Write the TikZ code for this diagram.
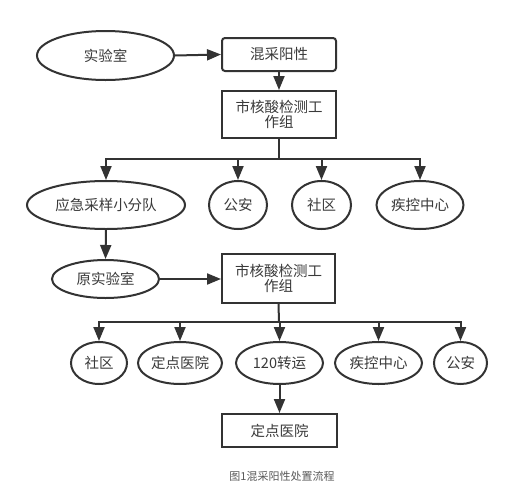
\documentclass[tikz,border=0pt]{standalone}
\usepackage{fontspec}
\setmainfont{Noto Sans CJK SC}
\newfontfamily\capfont{Noto Sans CJK SC}
\usetikzlibrary{shapes.geometric,arrows.meta}
\definecolor{ln}{HTML}{333333}
\definecolor{tx}{HTML}{3A3A3A}
\tikzset{
  ov/.style={ellipse,draw=ln,line width=2pt,inner sep=0pt,text=tx,font=\fontsize{14.5}{17}\selectfont},
  bx/.style={rectangle,draw=ln,line width=2pt,inner sep=0pt,text=tx,align=center,font=\fontsize{14.5}{17}\selectfont},
  ar/.style={draw=ln,line width=2pt,-{Triangle[length=14pt,width=11pt]}},
  ln/.style={draw=ln,line width=2pt}
}
\begin{document}
\begin{tikzpicture}[x=1pt,y=-1pt]
\useasboundingbox (0,0) rectangle (525,493);
\fill[white] (0,0) rectangle (525,493);
% top row
\node[ov,minimum width=137pt,minimum height=49pt] (lab) at (105.5,55.5) {实验室};
\node[bx,rounded corners=3pt,minimum width=114pt,minimum height=33pt] (pos) at (279,54.5) {混采阳性};
\node[bx,minimum width=114pt,minimum height=47pt] (wg1) at (279,114.5) {市核酸检测工\\[-2pt]作组};
\coordinate (bar1) at (279,159);
% second row
\node[ov,minimum width=158pt,minimum height=48pt] (team) at (106,205) {应急采样小分队};
\node[ov,minimum width=58pt,minimum height=48pt] (police1) at (238,205) {公安};
\node[ov,minimum width=59pt,minimum height=48pt] (comm1) at (321.5,205) {社区};
\node[ov,minimum width=87pt,minimum height=48pt] (cdc1) at (420,205) {疾控中心};
% third row
\node[ov,minimum width=107pt,minimum height=38pt] (olab) at (105.5,279) {原实验室};
\node[bx,minimum width=113pt,minimum height=49pt] (wg2) at (278.5,278.5) {市核酸检测工\\[-2pt]作组};
\coordinate (bar2) at (279,322);
% fourth row
\node[ov,minimum width=56pt,minimum height=42pt] (comm2) at (99,363) {社区};
\node[ov,minimum width=84pt,minimum height=42pt] (hosp1) at (180,363) {定点医院};
\node[ov,minimum width=87pt,minimum height=42pt] (trans) at (279.5,363) {120转运};
\node[ov,minimum width=87pt,minimum height=42pt] (cdc2) at (378.5,363) {疾控中心};
\node[ov,minimum width=53pt,minimum height=42pt] (police2) at (460.5,363) {公安};
% bottom
\node[bx,minimum width=115pt,minimum height=33pt] (hosp2) at (279.5,430.5) {定点医院};
\node[text=black!65,font=\capfont\fontsize{11}{13}\selectfont] (cap) at (282,476) {图1混采阳性处置流程};
% connectors
\draw[ar] (lab.east) -- (pos.west);
\draw[ar] (pos.south) -- (wg1.north);
\draw[ln] (wg1.south) -- (bar1);
\foreach \n in {team,police1,comm1,cdc1}
  \draw[ar] (bar1) -| (\n.north);
\draw[ar] (team.south) -- (olab.north);
\draw[ar] (olab.east) -- (wg2.west |- olab.east);
\draw[ln] (wg2.south) -- (bar2);
\foreach \n in {comm2,hosp1,trans,cdc2,police2}
  \draw[ar] (bar2) -| (\n.north);
\draw[ar] (trans.south) -- (hosp2.north);
\end{tikzpicture}
\end{document}
